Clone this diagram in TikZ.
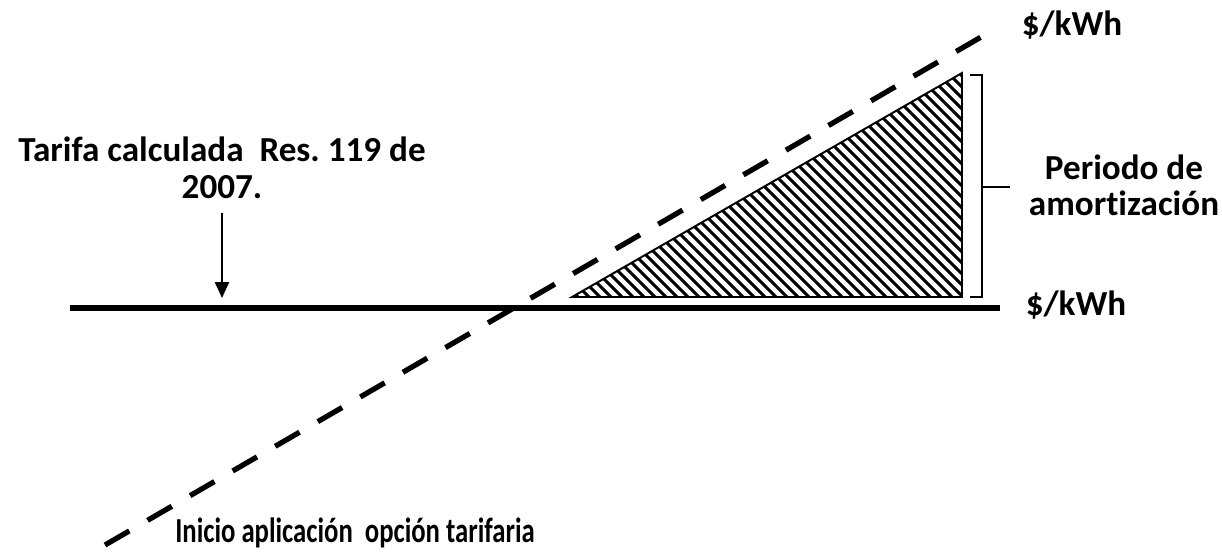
\documentclass[tikz,border=0pt]{standalone}
\usepackage{fontspec}
\setmainfont{Carlito}[Ligatures=NoCommon]
\usetikzlibrary{arrows.meta}
\frenchspacing
\begin{document}
\begin{tikzpicture}[x=0.02cm,y=-0.02cm,
	lbl/.style={font=\bfseries\fontsize{20}{20}\selectfont, align=center, inner sep=0pt},
	base/.style={line width=3.2pt},
	trend/.style={line width=3pt, dash pattern=on 16pt off 12pt},
	hatch/.style={line width=1.7pt},
	brace/.style={line width=1.3pt}]
	\useasboundingbox (0,0) rectangle (1222,552);
	% hatched area
	\coordinate (t1) at (572,297);
	\coordinate (t2) at (962,297);
	\coordinate (t3) at (962,73);
	\begin{scope}
		\clip (t1) -- (t2) -- (t3) -- cycle;
		\foreach \x in {570,581,...,1200}
			\draw[hatch] (\x,300) -- ++(-240,-240);
	\end{scope}
	\draw[line width=1.1pt, line join=miter] (t1) -- (t2) -- (t3) -- cycle;

	\coordinate (h0) at (70,308);
	\coordinate (h1) at (1000,308);
	\draw[base] (h0) -- (h1);
	\coordinate (d0) at (105,545);
	\coordinate (d1) at (988,33);
	\draw[trend] (d0) -- (d1);

	\node[lbl] (kwhtop) at (1072,25) {\$/kWh};
	\node[lbl] (kwhbot) at (1076,305) {\$/kWh};
	\node[lbl] (periodo) at (1124,185) {Periodo de\\[0.5pt]amortización};
	\node[lbl] (tarifa) at (222,168) {Tarifa calculada\ \ Res. 119 de\\[1pt]2007.};
	\node[lbl] (inicio) at (355,533) {\scalebox{0.76}[1]{Inicio aplicación\ \ opción tarifaria}};

	% bracket
	\coordinate (b0) at (970,75);
	\coordinate (b1) at (970,297);
	\coordinate (bm) at (982,187);
	\draw[brace] (b0) -| (bm) |- (b1);
	\draw[brace] (bm) -- ++(28,0);

	\coordinate (hit) at (222,298);
	\draw[line width=1pt, -{Triangle[length=9pt,width=8pt]}, shorten <=8pt] (tarifa.south) -- (hit);
\end{tikzpicture}
\end{document}
